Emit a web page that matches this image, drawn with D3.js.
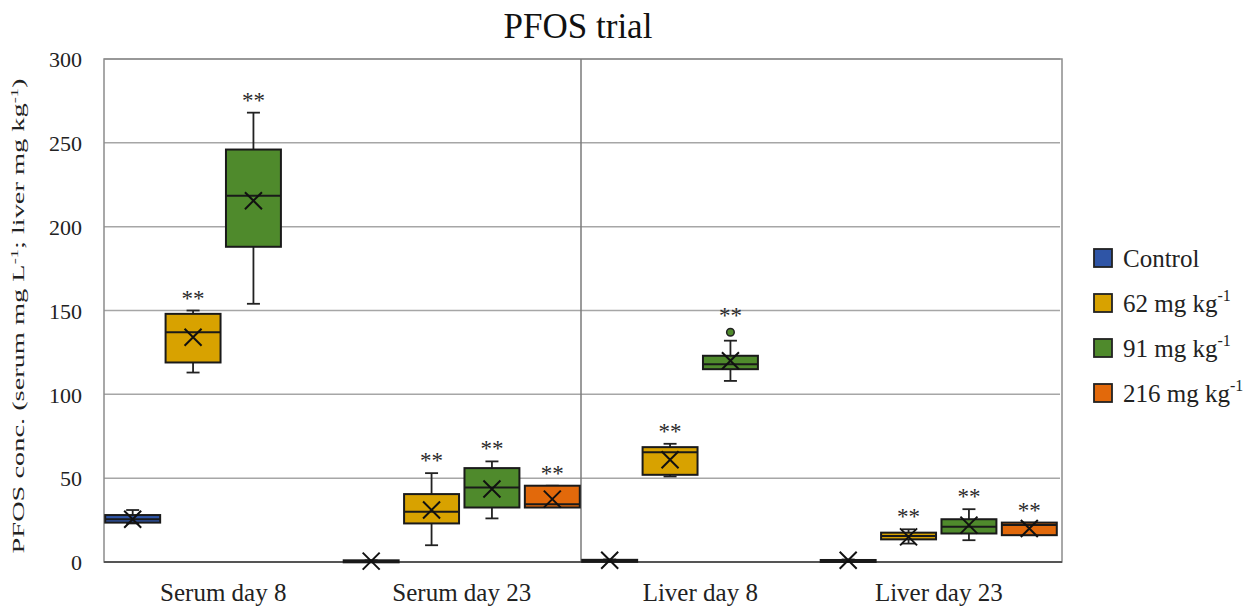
<!DOCTYPE html>
<html>
<head>
<meta charset="utf-8">
<script src="https://cdn.jsdelivr.net/npm/d3@7"></script>
<style>
  body { margin: 0; background: #fff; }
  svg { display: block; font-family: "Liberation Serif", "DejaVu Serif", serif; }
</style>
</head>
<body>
<script>
// categories on the x axis and the dose groups (legend)
const categories = ["Serum day 8", "Serum day 23", "Liver day 8", "Liver day 23"];
const groups = ["Control", "62", "91", "216"];
const groupColors = ["#2F55A6", "#D8A200", "#4F8A2C", "#E2690B"];
const yTicks = [0, 50, 100, 150, 200, 250, 300];

// box stats per category: [min, q1, median, q3, max, mean], null = not measured
const controlStats = [
  [23, 23.5, 25.5, 28, 31, 25.5],
  [0, 0.2, 0.5, 1, 1, 0.5],
  [0.5, 0.8, 1, 1.3, 1.5, 1],
  [0.5, 0.8, 1, 1.2, 1.5, 1]
];
const dose62Stats = [
  [113, 119, 137, 148, 150, 134],
  [10, 23, 30, 40.5, 53, 31],
  [51, 52, 65.5, 68.5, 70.5, 61],
  [11, 13.5, 15.5, 17.5, 19.5, 15]
];
const dose91Stats = [
  [154, 188, 218.5, 246, 268, 215.5],
  [26, 32.5, 44.5, 56, 60, 43.5],
  [108, 115, 118, 123, 132, 120],
  [13, 17, 21, 25.5, 31.5, 22]
];
const dose216Stats = [
  null,
  [33, 32.5, 34.5, 45.5, 45.5, 37.5],
  null,
  [16, 16, 22, 23.5, 23.5, 20]
];
const allStats = [controlStats, dose62Stats, dose91Stats, dose216Stats];

// outliers: [category index, group index, value]
const outliers = [[2, 2, 137]];
// significance marks: [category index, group index]
const starred = [[0,1],[0,2],[1,1],[1,2],[1,3],[2,1],[2,2],[3,1],[3,2],[3,3]];

const W = 1250, H = 607;
const plot = { left: 104, right: 1060, top: 59, bottom: 562 };

const svg = d3.select("body").append("svg").attr("width", W).attr("height", H);

const x = d3.scaleBand().domain(categories).range([plot.left, plot.right - 2]).paddingInner(0).paddingOuter(0);
const xg = d3.scaleBand().domain(groups).range([0, x.bandwidth()]).paddingInner(0.09).paddingOuter(0.02);
const y = d3.scaleLinear().domain([0, 300]).range([plot.bottom, plot.top]);

// gridlines
svg.append("g").selectAll("line").data(yTicks.filter(d => d > 0)).join("line")
  .attr("x1", plot.left).attr("x2", plot.right)
  .attr("y1", d => y(d)).attr("y2", d => y(d))
  .attr("stroke", "#a6a6a6").attr("stroke-width", 1.5);

// frame + divider between serum and liver
svg.append("rect")
  .attr("x", plot.left).attr("y", plot.top)
  .attr("width", plot.right - plot.left + 2).attr("height", plot.bottom - plot.top)
  .attr("fill", "none").attr("stroke", "#8c8c8c").attr("stroke-width", 1.5);
svg.append("line")
  .attr("x1", x(categories[2])).attr("x2", x(categories[2]))
  .attr("y1", plot.top).attr("y2", plot.bottom)
  .attr("stroke", "#7a7a7a").attr("stroke-width", 1.5);
svg.append("line")
  .attr("x1", plot.left).attr("x2", plot.right + 2)
  .attr("y1", plot.bottom).attr("y2", plot.bottom)
  .attr("stroke", "#555").attr("stroke-width", 2);

// y axis labels
const yAxis = svg.append("g").attr("transform", `translate(${plot.left - 22},0)`)
  .call(d3.axisLeft(y).tickValues(yTicks).tickSize(0).tickPadding(0));
yAxis.select(".domain").remove();
yAxis.selectAll("text").attr("font-size", 22).attr("fill", "#222")
  .attr("font-family", "Liberation Serif, serif").attr("dy", "0.35em");

// x axis labels
const xAxis = svg.append("g").attr("transform", `translate(0,${plot.bottom})`)
  .call(d3.axisBottom(x).tickSize(0).tickPadding(21));
xAxis.select(".domain").remove();
xAxis.selectAll("text").attr("font-size", 25).attr("fill", "#222")
  .attr("font-family", "Liberation Serif, serif");

// boxes
const boxW = xg.bandwidth();
const capW = 13;
const boxes = [];
allStats.forEach((series, gi) => {
  series.forEach((s, ci) => {
    if (s) boxes.push({ ci, gi, s });
  });
});

const bg = svg.append("g").selectAll("g").data(boxes).join("g")
  .attr("transform", d => `translate(${x(categories[d.ci]) + xg(groups[d.gi])},0)`);
const cx = boxW / 2;

// whiskers
bg.append("line").attr("x1", cx).attr("x2", cx)
  .attr("y1", d => y(d.s[4])).attr("y2", d => y(d.s[3]))
  .attr("stroke", "#222").attr("stroke-width", 1.8);
bg.append("line").attr("x1", cx).attr("x2", cx)
  .attr("y1", d => y(d.s[1])).attr("y2", d => y(d.s[0]))
  .attr("stroke", "#222").attr("stroke-width", 1.8);
bg.append("line").attr("x1", cx - capW / 2).attr("x2", cx + capW / 2)
  .attr("y1", d => y(d.s[4])).attr("y2", d => y(d.s[4]))
  .attr("stroke", "#222").attr("stroke-width", 1.8);
bg.append("line").attr("x1", cx - capW / 2).attr("x2", cx + capW / 2)
  .attr("y1", d => y(d.s[0])).attr("y2", d => y(d.s[0]))
  .attr("stroke", "#222").attr("stroke-width", 1.8);

// box body
bg.append("rect")
  .attr("x", 0).attr("width", boxW)
  .attr("y", d => y(d.s[3]))
  .attr("height", d => Math.max(2, y(d.s[1]) - y(d.s[3])))
  .attr("fill", d => groupColors[d.gi])
  .attr("stroke", "#1a1a1a").attr("stroke-width", 2);
// median
bg.append("line").attr("x1", 0).attr("x2", boxW)
  .attr("y1", d => y(d.s[2])).attr("y2", d => y(d.s[2]))
  .attr("stroke", "#1a1a1a").attr("stroke-width", 2);
// mean marker (x)
bg.append("path")
  .attr("d", d => {
    const my = y(d.s[5]), r = 8.5;
    return `M${cx - r},${my - r}L${cx + r},${my + r}M${cx - r},${my + r}L${cx + r},${my - r}`;
  })
  .attr("stroke", "#111").attr("stroke-width", 2).attr("fill", "none");

// outliers
svg.append("g").selectAll("circle").data(outliers).join("circle")
  .attr("cx", d => x(categories[d[0]]) + xg(groups[d[1]]) + cx)
  .attr("cy", d => y(d[2]))
  .attr("r", 3.8)
  .attr("fill", d => groupColors[d[1]])
  .attr("stroke", "#222").attr("stroke-width", 1.5);

// significance stars
svg.append("g").selectAll("text").data(starred).join("text")
  .attr("x", d => x(categories[d[0]]) + xg(groups[d[1]]) + cx)
  .attr("y", d => {
    const s = allStats[d[1]][d[0]];
    let top = y(s[4]);
    outliers.forEach(o => { if (o[0] === d[0] && o[1] === d[1]) top = Math.min(top, y(o[2]) - 4); });
    return top - 5;
  })
  .attr("text-anchor", "middle")
  .attr("font-size", 23).attr("fill", "#2a2a2a")
  .text("**");

// title
svg.append("text").attr("x", 578).attr("y", 38)
  .attr("text-anchor", "middle").attr("font-size", 35).attr("fill", "#111")
  .text("PFOS trial");

// y axis title with superscripts, stretched to span the plot like the original
const yt = svg.append("text")
  .attr("text-anchor", "middle").attr("font-size", 17).attr("fill", "#222")
  .attr("dy", "0.35em");
yt.append("tspan").text("PFOS conc. (serum mg L");
yt.append("tspan").attr("font-size", 11).attr("dy", -6).text("-1");
yt.append("tspan").attr("dy", 6).text("; liver mg kg");
yt.append("tspan").attr("font-size", 11).attr("dy", -6).text("-1");
yt.append("tspan").attr("dy", 6).text(")");
const ytw = yt.node().getBBox().width;
yt.attr("transform", `translate(18,316) rotate(-90) scale(${475 / ytw},1)`);

// legend
const legendLabels = ["Control", "62 mg kg", "91 mg kg", "216 mg kg"];
const lg = svg.append("g").selectAll("g").data(groups).join("g")
  .attr("transform", (d, i) => `translate(1094,${249 + i * 45})`);
lg.append("rect").attr("width", 18).attr("height", 18)
  .attr("fill", (d, i) => groupColors[i]).attr("stroke", "#222").attr("stroke-width", 1.8);
const lt = lg.append("text").attr("x", 29).attr("y", 18)
  .attr("font-size", 25).attr("fill", "#222");
lt.append("tspan").text((d, i) => legendLabels[i]);
lt.filter((d, i) => i > 0).append("tspan")
  .attr("font-size", 16).attr("dy", -11).text("-1");
</script>
</body>
</html>
